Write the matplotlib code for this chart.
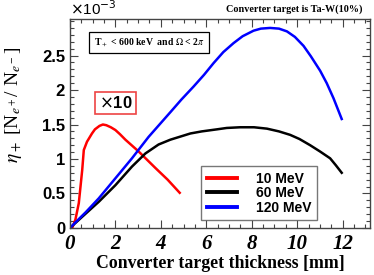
import numpy as np
import matplotlib.pyplot as plt
from matplotlib.ticker import MultipleLocator

# positron yield (x1e-3) vs converter thickness
x_10 = [0.1, 0.24, 0.39, 0.54, 0.61, 0.75, 0.97, 1.1, 1.3, 1.45, 1.6, 1.8, 2.0, 2.2, 2.44, 3.02, 3.76, 4.3, 4.83]
y_10 = [0.0, 0.12, 0.36, 0.84, 1.13, 1.25, 1.37, 1.43, 1.48, 1.50, 1.49, 1.46, 1.42, 1.36, 1.28, 1.11, 0.87, 0.70, 0.51]

x_60 = [0.0, 0.3, 0.7, 1.27, 2.0, 2.73, 3.32, 3.9, 4.42, 5.3, 5.8, 6.47, 6.9, 7.49, 8.1, 8.67,
        9.2, 9.69, 10.1, 10.57, 11.0, 11.45, 11.7, 11.96]
y_60 = [0.0, 0.09, 0.21, 0.38, 0.62, 0.89, 1.08, 1.21, 1.28, 1.37, 1.40, 1.43, 1.45, 1.46, 1.46, 1.44,
        1.40, 1.35, 1.29, 1.20, 1.11, 1.01, 0.91, 0.80]

x_120 = [0.0, 0.3, 0.7, 1.27, 2.0, 2.73, 3.46, 4.45, 4.9, 5.44, 5.9, 6.32, 6.75, 7.2, 7.6, 8.08,
         8.4, 8.81, 9.2, 9.55, 9.9, 10.28, 10.6, 11.01, 11.3, 11.6, 11.96]
y_120 = [0.0, 0.10, 0.23, 0.43, 0.72, 1.01, 1.32, 1.69, 1.86, 2.05, 2.22, 2.39, 2.55, 2.68, 2.78, 2.86,
         2.89, 2.90, 2.89, 2.85, 2.77, 2.64, 2.49, 2.28, 2.10, 1.88, 1.58]

labels = ['10 MeV', '60 MeV', '120 MeV']

fig = plt.figure(figsize=(3.74, 2.75), dpi=100)
ax = fig.add_axes([0.187, 0.171, 0.802, 0.76])

l1, = ax.plot(x_10, y_10, color='#ff0000', lw=1.8)
l2, = ax.plot(x_60, y_60, color='black', lw=1.8)
l3, = ax.plot(x_120, y_120, color='#0000ff', lw=1.8)

ax.set_xlim(0, 13.2)
ax.set_ylim(0, 3.03)
ax.xaxis.set_major_locator(MultipleLocator(2))
ax.xaxis.set_minor_locator(MultipleLocator(0.5))
ax.yaxis.set_major_locator(MultipleLocator(0.5))
ax.yaxis.set_minor_locator(MultipleLocator(0.1))
ax.tick_params(which='both', direction='in', top=True, right=True, width=0.8, color='#444444')
ax.tick_params(which='major', length=6)
ax.tick_params(which='minor', length=3)
ax.tick_params(axis='x', pad=4)
for s in ax.spines.values():
    s.set_linewidth(1.0)
    s.set_color('#444444')

ax.set_xticks([0, 2, 4, 6, 8, 10, 12])
ax.set_xticklabels(['0', '2', '4', '6', '8', '10', '12'], family='Liberation Serif',
                   style='italic', weight='bold', fontsize=15)
ax.set_yticks([0, 0.5, 1, 1.5, 2, 2.5])
ax.set_yticklabels(['0', '0.5', '1', '1.5', '2', '2.5'], family='Liberation Sans',
                   weight='bold', fontsize=12)

ax.set_xlabel('Converter target thickness [mm]', family='Liberation Serif',
              weight='bold', fontsize=12.8, labelpad=1)
fig.text(0.035, 0.62, r'$\eta_+$ [N$_{e^+}$/ N$_{e^-}$]', rotation=90, ha='center', va='center',
         family='Liberation Serif', fontsize=14, math_fontfamily='stix')

fig.text(0.187, 0.935, r'$\times$10$^{-3}$', family='Liberation Sans', fontsize=11,
         ha='left', va='bottom', math_fontfamily='dejavusans')
fig.text(0.97, 0.965, 'Converter target is Ta-W(10%)', family='Liberation Serif',
         weight='bold', fontsize=7.3, ha='right', va='center')

ax.text(1.05, 2.69, r'T$_+$ < 600 keV  and $\Omega$ < 2$\pi$', family='Liberation Serif',
        weight='bold', fontsize=7, va='center', ha='left', math_fontfamily='stix',
        bbox=dict(boxstyle='square,pad=0.45', fc='white', ec='black', lw=0.9))
ax.text(2.0, 1.81, r'$\times$10', family='Liberation Sans', fontsize=12, weight='bold', color='black',
        ha='center', va='center', math_fontfamily='dejavusans',
        bbox=dict(boxstyle='square,pad=0.2', fc='white', ec='#ee4444', lw=1.2))

leg = ax.legend([l1, l2, l3], labels, loc='upper left', bbox_to_anchor=(0.415, 0.33),
                prop=dict(family='Liberation Sans', weight='bold', size=10),
                frameon=True, fancybox=False, handlelength=2.2, labelspacing=0.05,
                borderpad=0.4, handletextpad=1.3, markerfirst=True, alignment='right')
leg.get_frame().set_edgecolor('#555555')
leg.get_frame().set_linewidth(1.0)
for h in leg.legend_handles:
    h.set_linewidth(2.8)
for t in leg.get_texts():
    t.set_ha('right')

fig.savefig('out.png', dpi=100)
